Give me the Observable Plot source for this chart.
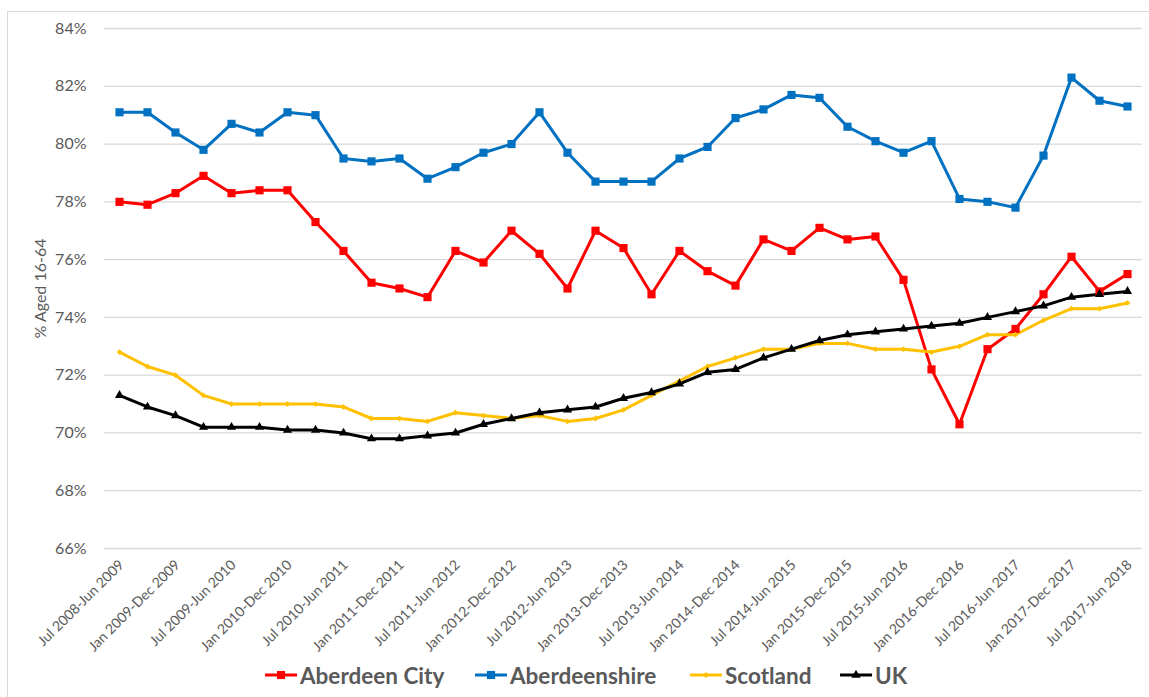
<!DOCTYPE html>
<html><head><meta charset="utf-8">
<script src="https://cdn.jsdelivr.net/npm/d3@7"></script>
<script src="https://cdn.jsdelivr.net/npm/@observablehq/plot@0.6"></script>
<style>
body{margin:0;background:#fff;}
#wrap{position:relative;width:1149px;height:697px;overflow:hidden;background:#fff;font-family:Lato,sans-serif;}
#frame{position:absolute;left:7px;top:11px;width:1300px;height:900px;border:1px solid #d9d9d9;pointer-events:none;}
#chart{position:absolute;left:0;top:0;}
.lg{position:absolute;top:661px;height:28px;display:flex;align-items:center;font-weight:700;font-size:22.5px;color:#595959;white-space:nowrap;}
.lg svg{margin-right:3px;}
</style></head>
<body><div id="wrap"><div id="frame"></div><div id="chart"></div><div id="legend"></div></div>
<script>
const periods = [
"Jul 2008-Jun 2009","Oct 2008-Sep 2009","Jan 2009-Dec 2009","Apr 2009-Mar 2010",
"Jul 2009-Jun 2010","Oct 2009-Sep 2010","Jan 2010-Dec 2010","Apr 2010-Mar 2011",
"Jul 2010-Jun 2011","Oct 2010-Sep 2011","Jan 2011-Dec 2011","Apr 2011-Mar 2012",
"Jul 2011-Jun 2012","Oct 2011-Sep 2012","Jan 2012-Dec 2012","Apr 2012-Mar 2013",
"Jul 2012-Jun 2013","Oct 2012-Sep 2013","Jan 2013-Dec 2013","Apr 2013-Mar 2014",
"Jul 2013-Jun 2014","Oct 2013-Sep 2014","Jan 2014-Dec 2014","Apr 2014-Mar 2015",
"Jul 2014-Jun 2015","Oct 2014-Sep 2015","Jan 2015-Dec 2015","Apr 2015-Mar 2016",
"Jul 2015-Jun 2016","Oct 2015-Sep 2016","Jan 2016-Dec 2016","Apr 2016-Mar 2017",
"Jul 2016-Jun 2017","Oct 2016-Sep 2017","Jan 2017-Dec 2017","Apr 2017-Mar 2018",
"Jul 2017-Jun 2018"];

const xTickLabels = [
"Jul 2008-Jun 2009","Jan 2009-Dec 2009","Jul 2009-Jun 2010","Jan 2010-Dec 2010",
"Jul 2010-Jun 2011","Jan 2011-Dec 2011","Jul 2011-Jun 2012","Jan 2012-Dec 2012",
"Jul 2012-Jun 2013","Jan 2013-Dec 2013","Jul 2013-Jun 2014","Jan 2014-Dec 2014",
"Jul 2014-Jun 2015","Jan 2015-Dec 2015","Jul 2015-Jun 2016","Jan 2016-Dec 2016",
"Jul 2016-Jun 2017","Jan 2017-Dec 2017","Jul 2017-Jun 2018"];

const aberdeenCity = [78.0,77.9,78.3,78.9,78.3,78.4,78.4,77.3,76.3,75.2,75.0,74.7,76.3,75.9,77.0,76.2,75.0,77.0,76.4,74.8,76.3,75.6,75.1,76.7,76.3,77.1,76.7,76.8,75.3,72.2,70.3,72.9,73.6,74.8,76.1,74.9,75.5];
const aberdeenshire = [81.1,81.1,80.4,79.8,80.7,80.4,81.1,81.0,79.5,79.4,79.5,78.8,79.2,79.7,80.0,81.1,79.7,78.7,78.7,78.7,79.5,79.9,80.9,81.2,81.7,81.6,80.6,80.1,79.7,80.1,78.1,78.0,77.8,79.6,82.3,81.5,81.3];
const scotland = [72.8,72.3,72.0,71.3,71.0,71.0,71.0,71.0,70.9,70.5,70.5,70.4,70.7,70.6,70.5,70.6,70.4,70.5,70.8,71.3,71.8,72.3,72.6,72.9,72.9,73.1,73.1,72.9,72.9,72.8,73.0,73.4,73.4,73.9,74.3,74.3,74.5];
const uk = [71.3,70.9,70.6,70.2,70.2,70.2,70.1,70.1,70.0,69.8,69.8,69.9,70.0,70.3,70.5,70.7,70.8,70.9,71.2,71.4,71.7,72.1,72.2,72.6,72.9,73.2,73.4,73.5,73.6,73.7,73.8,74.0,74.2,74.4,74.7,74.8,74.9];

const seriesNames = ["Aberdeen City","Aberdeenshire","Scotland","UK"];
const seriesColors = ["#ff0000","#0070c0","#ffc000","#000000"];
const seriesSymbols = ["square","square","diamond2","triangle"];
const seriesSymbolR = [4.6,4.6,2.6,3.4];
const yTicks = [66,68,70,72,74,76,78,80,82,84];

const seriesValues = [aberdeenCity, aberdeenshire, scotland, uk];
const rows = [];
seriesNames.forEach((s, k) => seriesValues[k].forEach((v, i) => rows.push({series: s, period: periods[i], value: v})));

const dotMarks = seriesNames.map((s, k) =>
  Plot.dot(rows.filter(d => d.series === s), {x: "period", y: "value", fill: seriesColors[k], stroke: "none", symbol: seriesSymbols[k], r: seriesSymbolR[k]})
);

const chart = Plot.plot({
  width: 1149, height: 655,
  marginLeft: 104, marginRight: 7, marginTop: 28, marginBottom: 107,
  style: {fontFamily: "Lato, sans-serif", background: "transparent", overflow: "visible"},
  x: {type: "point", domain: periods, padding: 0.5},
  y: {domain: [66, 84]},
  color: {domain: seriesNames, range: seriesColors},
  marks: [
    Plot.ruleY(yTicks, {stroke: "#d9d9d9", strokeWidth: 1.3}),
    Plot.axisY(yTicks, {tickSize: 0, tickPadding: 18, tickFormat: d => d + "%", fontSize: 16, fill: "#595959",
      label: "% Aged 16-64", labelAnchor: "center", labelArrow: "none", labelOffset: 70}),
    Plot.axisX(xTickLabels, {tickSize: 0, tickPadding: 14, tickRotate: -45, fontSize: 14, dx: 2, fill: "#595959", label: null}),
    Plot.line(rows, {x: "period", y: "value", z: "series", stroke: "series", strokeWidth: 3, strokeLinejoin: "round"}),
    ...dotMarks
  ]
});
document.getElementById("chart").appendChild(chart);

// legend
const legendLeft = [265, 475, 690, 840];
const legend = document.getElementById("legend");
seriesNames.forEach((s, k) => {
  const item = document.createElement("div");
  item.className = "lg";
  item.style.left = legendLeft[k] + "px";
  const sym = d3.symbol(d3[{square: "symbolSquare", diamond2: "symbolDiamond2", triangle: "symbolTriangle"}[seriesSymbols[k]]], Math.PI * seriesSymbolR[k] ** 2)();
  item.innerHTML = `<svg width="32" height="20"><line x1="0" x2="32" y1="10" y2="10" stroke="${seriesColors[k]}" stroke-width="3"/><path transform="translate(16,10)" d="${sym}" fill="${seriesColors[k]}"/></svg><span>${s}</span>`;
  legend.appendChild(item);
});
</script>
</body></html>
